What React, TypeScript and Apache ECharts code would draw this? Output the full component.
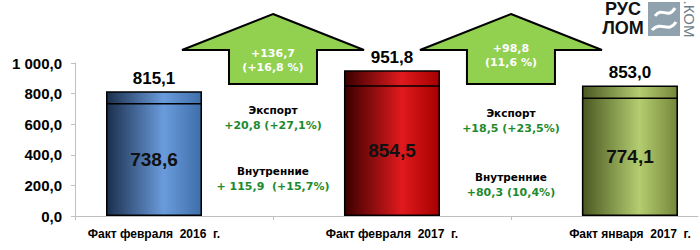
import React, { useEffect, useRef } from "react";
import * as echarts from "echarts";

const categories = ["Факт февраля  2016  г.", "Факт февраля  2017  г.", "Факт января  2017  г."];
const domestic = [738.6, 854.5, 774.1];
const totals = [815.1, 951.8, 853.0];
const yMax = 1000;
const yStep = 200;

const arrowNotes = [
  { at: 0.5, lines: ["+136,7", "(+16,8 %)"], textY: 60 },
  { at: 1.5, lines: ["+98,8", "(11,6 %)"], textY: 55 },
];
const sideNotes = [
  { at: 0.5, exportLabel: "+20,8 (+27,1%)", internalLabel: "+ 115,9  (+15,7%)", y1: 110, y2: 171 },
  { at: 1.5, exportLabel: "+18,5 (+23,5%)", internalLabel: "+80,3 (10,4%)", y1: 113, y2: 177 },
];

const palettes = [
  ["#1b2f4d", "#6a9bdc", "#3f6fa9"],
  ["#3a0000", "#e01a1e", "#a60000"],
  ["#4a5822", "#b4cd70", "#75873a"],
];

const fmt = (v: number) => {
  const s = v.toFixed(1).replace(".", ",");
  const [i, d] = s.split(",");
  return i.replace(/\B(?=(\d{3})+(?!\d))/g, " ") + "," + d;
};

const grad = (c: string[]) =>
  new echarts.graphic.LinearGradient(0, 0, 1, 0, [
    { offset: 0, color: c[0] },
    { offset: 0.6, color: c[1] },
    { offset: 1, color: c[2] },
  ]);

const FONT = "'Liberation Sans', Arial, sans-serif";
const VFONT = "'DejaVu Sans', Verdana, sans-serif";

export default function App() {
  const ref = useRef<HTMLDivElement>(null);
  useEffect(() => {
    if (!ref.current) return;
    const chart = echarts.init(ref.current, null, { renderer: "svg" });
    const xMin = -0.332;
    const xMax = 2.286;
    chart.setOption({
      animation: false,
      grid: { left: 75, right: 2, top: 63, bottom: 34 },
      xAxis: {
        type: "value",
        min: xMin,
        max: xMax,
        splitLine: { show: false },
        axisLine: { show: true, onZero: false, lineStyle: { color: "#bfbfbf", width: 1 } },
        axisTick: { show: true, length: 4, lineStyle: { color: "#bfbfbf" }, customValues: [xMin, 0.5, 1.5] },
        axisLabel: {
          customValues: [0, 1, 2],
          formatter: (v: number) => categories[Math.round(v)] ?? "",
          fontFamily: FONT,
          fontWeight: "bold",
          fontSize: 12,
          color: "#000",
          margin: 12,
        },
      },
      yAxis: {
        type: "value",
        min: 0,
        max: yMax,
        interval: yStep,
        splitLine: { show: false },
        axisLine: { show: true, onZero: false, lineStyle: { color: "#bfbfbf", width: 1 } },
        axisTick: { show: true, length: 4, lineStyle: { color: "#bfbfbf" } },
        axisLabel: {
          formatter: (v: number) => fmt(v),
          fontFamily: FONT,
          fontWeight: "bold",
          fontSize: 15,
          color: "#000",
          margin: 13,
        },
      },
      series: [
        {
          type: "bar",
          barWidth: 96,
          barGap: "-100%",
          data: totals.map((v, i) => ({
            value: [i, v],
            itemStyle: { color: grad(palettes[i]), borderColor: "#000", borderWidth: 1.5 },
          })),
          label: {
            show: true,
            position: "top",
            distance: 4,
            formatter: (p: any) => fmt(totals[p.dataIndex]),
            fontFamily: FONT,
            fontWeight: "bold",
            fontSize: 17,
            color: "#000",
          },
        },
        {
          type: "bar",
          barWidth: 96,
          barGap: "-100%",
          data: domestic.map((v, i) => ({
            value: [i, v],
            itemStyle: { color: grad(palettes[i]), borderColor: "#000", borderWidth: 1.5 },
          })),
          label: {
            show: true,
            position: "inside",
            formatter: (p: any) => fmt(domestic[p.dataIndex]),
            fontFamily: FONT,
            fontWeight: "bold",
            fontSize: 19,
            color: "#111",
          },
        },
      ],
    });

    const graphics: any[] = [];
    arrowNotes.forEach((a) => {
      const cx = chart.convertToPixel({ xAxisIndex: 0 }, a.at) as number;
      graphics.push({
        type: "polygon",
        shape: {
          points: [
            [cx, 14],
            [cx + 91, 50],
            [cx + 44, 50],
            [cx + 44, 84],
            [cx - 44, 84],
            [cx - 44, 50],
            [cx - 91, 50],
          ],
        },
        style: { fill: "#92d050", stroke: "#000", lineWidth: 2 },
      });
      graphics.push({
        type: "text",
        x: cx,
        y: a.textY,
        style: {
          text: a.lines.join("\n"),
          fill: "#fff",
          font: `bold 11px ${VFONT}`,
          lineHeight: 14,
          align: "center",
          verticalAlign: "middle",
        },
      });
    });
    sideNotes.forEach((n) => {
      const cx = chart.convertToPixel({ xAxisIndex: 0 }, n.at) as number;
      const add = (text: string, y: number, color: string, size: number) =>
        graphics.push({
          type: "text",
          x: cx,
          y,
          style: { text, fill: color, font: `bold ${size}px ${VFONT}`, align: "center", verticalAlign: "middle" },
        });
      add("Экспорт", n.y1, "#000", 10.5);
      add(n.exportLabel, n.y1 + 15, "#1e8a2e", 11);
      add("Внутренние", n.y2, "#000", 10.5);
      add(n.internalLabel, n.y2 + 15, "#1e8a2e", 11);
    });
    // logo
    graphics.push(
      {
        type: "text",
        x: 623,
        y: 9,
        style: { text: "РУС", fill: "#111", font: `bold 18px ${FONT}`, align: "center", verticalAlign: "middle" },
      },
      {
        type: "text",
        x: 623,
        y: 28,
        style: { text: "ЛОМ", fill: "#111", font: `bold 18px ${FONT}`, align: "center", verticalAlign: "middle" },
      },
      { type: "rect", shape: { x: 648, y: 2, width: 32, height: 34 }, style: { fill: "#8fa2ae" } },
      {
        type: "bezierCurve",
        shape: { x1: 652, y1: 30, x2: 676, y2: 22, cpx1: 662, cpy1: 20, cpx2: 668, cpy2: 34 },
        style: { stroke: "#fff", lineWidth: 3, fill: null },
      },
      {
        type: "bezierCurve",
        shape: { x1: 655, y1: 16, x2: 675, y2: 8, cpx1: 662, cpy1: 6, cpx2: 668, cpy2: 20 },
        style: { stroke: "#fff", lineWidth: 3, fill: null },
      },
      {
        type: "text",
        x: 689,
        y: 19,
        rotation: -Math.PI / 2,
        style: { text: ".КОМ", fill: "#6d7d88", font: `15px ${FONT}`, align: "center", verticalAlign: "middle" },
      }
    );
    chart.setOption({ graphic: graphics });
    return () => chart.dispose();
  }, []);
  return <div ref={ref} style={{ position: "absolute", left: 0, top: 0, width: 700, height: 250 }} />;
}
